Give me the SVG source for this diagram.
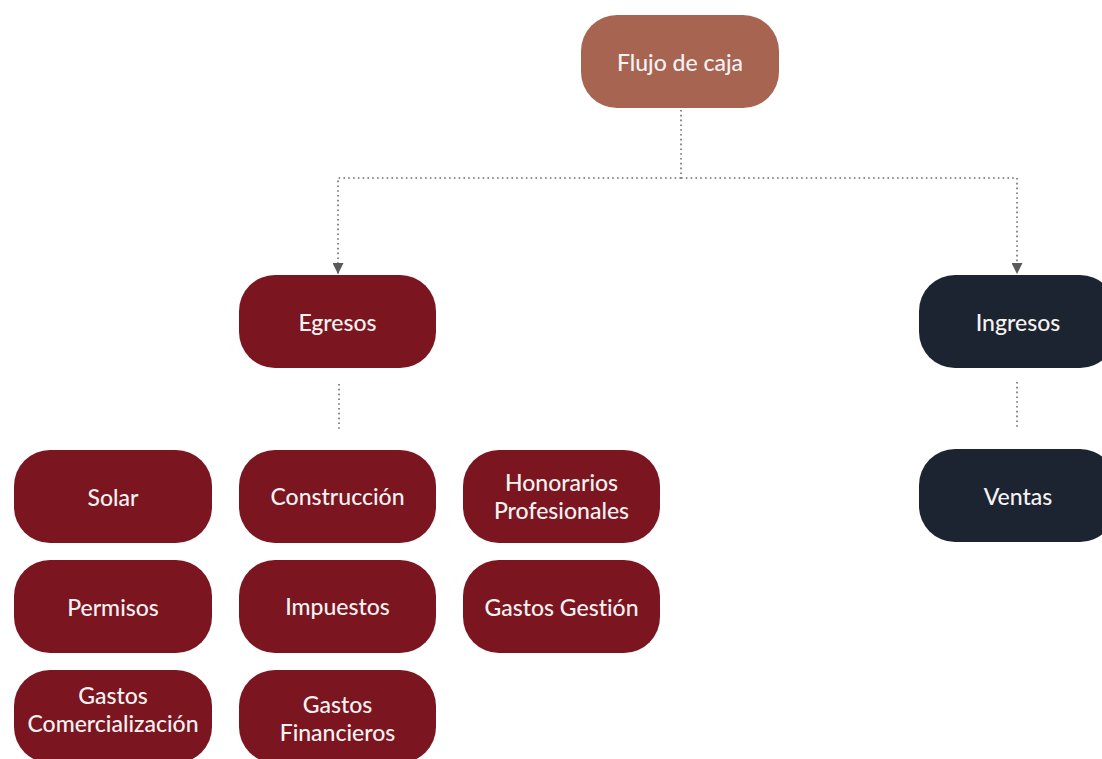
<svg xmlns="http://www.w3.org/2000/svg" width="1102" height="759" viewBox="0 0 1102 759">
  <style>
    .box { stroke: none; }
    .root { fill: #a66451; }
    .eg { fill: #7b1520; }
    .in { fill: #1b2430; }
    .lbl { font-family: Lato, "Open Sans", "Liberation Sans", sans-serif; font-size: 23px; font-weight: 500; font-variant-ligatures: none; fill: #f7f2f2; text-anchor: middle; dominant-baseline: central; }
    .conn { fill: none; stroke: #6e6e6e; stroke-width: 1.6; stroke-dasharray: 1.6 3.2; }
  </style>
  <defs>
    <marker id="arr" viewBox="0 0 10 10" refX="10" refY="5" markerWidth="11" markerHeight="11" markerUnits="userSpaceOnUse" orient="auto">
      <path d="M0,0 L10,5 L0,10 Z" fill="#5a5a5a"/>
    </marker>
  </defs>
  <rect width="1102" height="759" fill="#ffffff"/>

  <g id="connectors">
    <path class="conn" d="M681,110 V178"/>
    <path class="conn" d="M681,178 H338 V274" marker-end="url(#arr)"/>
    <path class="conn" d="M681,178 H1017 V274" marker-end="url(#arr)"/>
    <path class="conn" d="M339,384 V432"/>
    <path class="conn" d="M1017,382 V430"/>
  </g>

  <g id="flujo"><rect class="box root" x="581" y="15" width="198" height="93" rx="36"/><text class="lbl" x="680" y="62">Flujo de caja</text></g>
  <g id="egresos"><rect class="box eg" x="239" y="275" width="197" height="93" rx="36"/><text class="lbl" x="337.5" y="322">Egresos</text></g>
  <g id="ingresos"><rect class="box in" x="919" y="275" width="197" height="93" rx="36"/><text class="lbl" x="1018" y="322">Ingresos</text></g>
  <g id="ventas"><rect class="box in" x="919" y="449" width="197" height="93" rx="36"/><text class="lbl" x="1018" y="496">Ventas</text></g>

  <g id="solar"><rect class="box eg" x="14" y="450" width="198" height="93" rx="36"/><text class="lbl" x="113" y="497">Solar</text></g>
  <g id="construccion"><rect class="box eg" x="239" y="450" width="197" height="93" rx="36"/><text class="lbl" x="337.5" y="496">Construcción</text></g>
  <g id="honorarios"><rect class="box eg" x="463" y="450" width="197" height="93" rx="36"/><text class="lbl" x="561.5" y="482">Honorarios</text><text class="lbl" x="561.5" y="510">Profesionales</text></g>

  <g id="permisos"><rect class="box eg" x="14" y="560" width="198" height="93" rx="36"/><text class="lbl" x="113" y="607">Permisos</text></g>
  <g id="impuestos"><rect class="box eg" x="239" y="560" width="197" height="93" rx="36"/><text class="lbl" x="337.5" y="606">Impuestos</text></g>
  <g id="gastos-gestion"><rect class="box eg" x="463" y="560" width="197" height="93" rx="36"/><text class="lbl" x="561.5" y="607">Gastos Gestión</text></g>

  <g id="gastos-comercializacion"><rect class="box eg" x="14" y="670" width="198" height="93" rx="36"/><text class="lbl" x="113" y="695">Gastos</text><text class="lbl" x="113" y="723">Comercialización</text></g>
  <g id="gastos-financieros"><rect class="box eg" x="239" y="670" width="197" height="93" rx="36"/><text class="lbl" x="337.5" y="704">Gastos</text><text class="lbl" x="337.5" y="732">Financieros</text></g>
</svg>
